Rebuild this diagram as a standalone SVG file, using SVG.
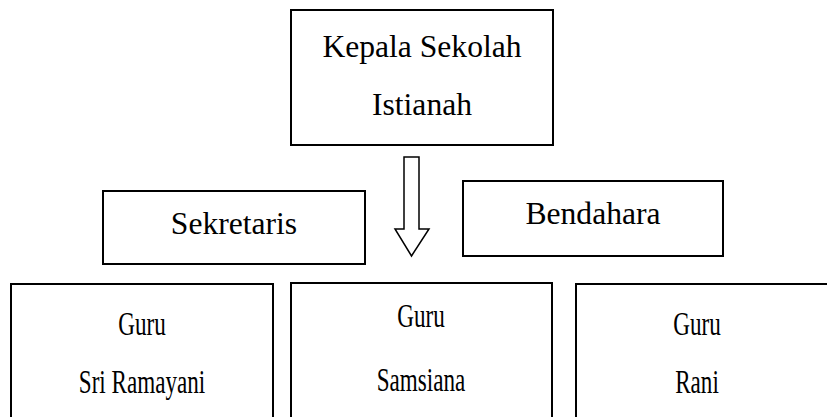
<svg xmlns="http://www.w3.org/2000/svg" width="827" height="417" viewBox="0 0 827 417">
<style>
.box{fill:#fff;stroke:#000;stroke-width:2}
.t{font-family:"Liberation Serif","Times New Roman",serif;font-size:31.6px;fill:#000;text-anchor:middle}
.g{font-family:"Liberation Serif","Times New Roman",serif;font-size:34px;fill:#000;text-anchor:middle}
.arr{fill:#fff;stroke:#000;stroke-width:1.5;stroke-linejoin:miter}
</style>
<rect width="827" height="417" fill="#fff"/>
<g id="kepala">
<rect class="box" x="291" y="10" width="262" height="135"/>
<text class="t" x="422" y="57">Kepala Sekolah</text>
<text class="t" x="422" y="115">Istianah</text>
</g>
<g id="sekretaris">
<rect class="box" x="103" y="191" width="262" height="73"/>
<text class="t" x="234" y="234">Sekretaris</text>
</g>
<g id="bendahara">
<rect class="box" x="463" y="181" width="260" height="75"/>
<text class="t" x="593" y="224">Bendahara</text>
</g>
<g id="guru1">
<path class="box" d="M11,420 V284 H273 V420"/>
<text class="g" transform="translate(142,335) scale(0.68,1)">Guru</text>
<text class="g" transform="translate(142,393) scale(0.68,1)">Sri Ramayani</text>
</g>
<g id="guru2">
<path class="box" d="M291,420 V283 H552 V420"/>
<text class="g" transform="translate(421,327) scale(0.68,1)">Guru</text>
<text class="g" transform="translate(421,391) scale(0.68,1)">Samsiana</text>
</g>
<g id="guru3">
<path class="box" d="M576,420 V284 H830"/>
<text class="g" transform="translate(697,335) scale(0.68,1)">Guru</text>
<text class="g" transform="translate(697,393) scale(0.68,1)">Rani</text>
</g>
<g id="connectors">
<path class="arr" d="M404,157 H419 V229 H429 L411.5,256 L395,229 H404 Z"/>
</g>
</svg>
